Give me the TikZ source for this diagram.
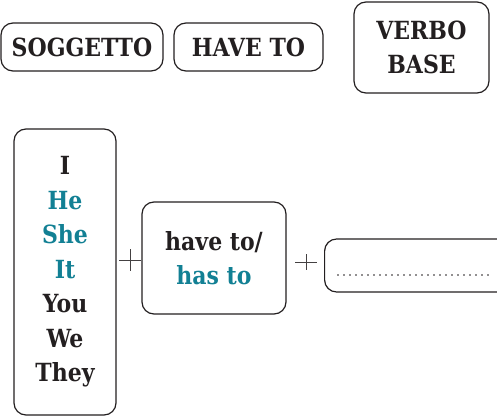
\documentclass[tikz,border=0pt]{standalone}
\usepackage{fontspec}
\setmainfont{DejaVu Serif}[FakeStretch=0.88]
\usepackage{xcolor}
\usetikzlibrary{positioning}

\definecolor{boxgray}{RGB}{35,31,32}
\definecolor{subjteal}{RGB}{18,128,148}

\begin{document}
\begin{tikzpicture}[x=1pt,y=-1pt,
box/.style={draw=boxgray,line width=1.2pt,rounded corners=12pt,align=center,inner sep=0pt,text=boxgray,font=\bfseries\fontsize{25}{34.5}\selectfont},
plus/.style={minimum size=22pt,inner sep=0pt,path picture={
  \draw[boxgray!85,line width=1pt] (path picture bounding box.west) -- (path picture bounding box.east)
    (path picture bounding box.north) -- (path picture bounding box.south);}}]
\useasboundingbox (0,0) rectangle (497,417);

\node[box,minimum width=162pt,minimum height=48pt] (sogg) at (82,47) {SOGGETTO};
\node[box,minimum width=149pt,minimum height=48pt] (have) at (248.5,47) {HAVE TO};
\node[box,minimum width=135pt,minimum height=91pt] (verbo) at (421.5,47.5) {VERBO\\BASE};

\node[box,minimum width=102pt,minimum height=286pt] (subj) at (65,272)
  {I\\\textcolor{subjteal}{He}\\\textcolor{subjteal}{She}\\\textcolor{subjteal}{It}\\You\\We\\They};
\node[box,minimum width=144pt,minimum height=112pt] (modal) at (214,258)
  {have to/\\\textcolor{subjteal}{has to}};
\node[box,minimum width=184pt,minimum height=53pt,anchor=west] (blank) at (324,265.5) {};

\node[plus] (p1) at (130,260) {};
\node[plus,minimum height=16pt] (p2) at (306,262) {};

\draw[boxgray,line width=1.9pt,line cap=round,dash pattern=on 0pt off 6pt]
  ([xshift=14pt,yshift=-9.5pt]blank.west) -- ++(154,0);
\end{tikzpicture}
\end{document}
